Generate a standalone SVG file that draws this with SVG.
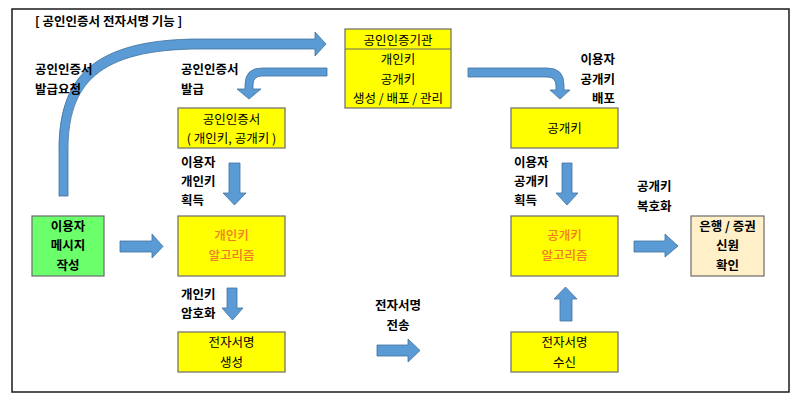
<svg xmlns="http://www.w3.org/2000/svg" width="800" height="402" viewBox="0 0 800 402">
<style>
text{font-family:"Noto Sans CJK KR","Noto Sans",sans-serif;font-size:12.5px;fill:#000}
.b{font-weight:bold}
.c{text-anchor:middle}
.r{text-anchor:end}
.o{fill:#F27A28;font-weight:500}
.box{stroke:#6b6b6b;stroke-width:1.2}
.y{fill:#FFFF00}
.arr{fill:#5B9BD5;stroke:#41719C;stroke-width:0.8}
</style>
<rect x="0" y="0" width="800" height="402" fill="#fff"/>
<rect x="12" y="9" width="777" height="383" fill="none" stroke="#1a1a1a" stroke-width="1.5"/>
<text x="35" y="25.5" class="b">[ 공인인증서 전자서명 기능 ]</text>

<g id="connectors">
<path class="arr" d="M59,196 L59,150 C59,80 90,39 200,39 L315,39 L315,32 L326,44 L315,56 L315,49 L200,49 C97,49 68,85 68,150 L68,196 Z"/>
<path class="arr" d="M327,68 L262,68 Q245,68 245,85 L245,89 L237,89 L249,99 L261,89 L253,89 L253,85 Q253,76 262,76 L327,76 Z"/>
<path class="arr" d="M468,68 L547,68 Q564,68 564,85 L564,90 L570,90 L560,99 L550,90 L556,90 L556,86 Q556,77 547,77 L468,77 Z"/>
<path class="arr" d="M229,163 L240,163 L240,193 L246,193 L234.5,205 L223,193 L229,193 Z"/>
<path class="arr" d="M562,163 L572,163 L572,193 L578,193 L567,205 L556,193 L562,193 Z"/>
<path class="arr" d="M120,241 L152,241 L152,234 L163,246.5 L152,258 L152,252 L120,252 Z"/>
<path class="arr" d="M227,288 L237,288 L237,308 L243,308 L232.5,320 L222,308 L227,308 Z"/>
<path class="arr" d="M377,345 L408,345 L408,339 L420,350.5 L408,362 L408,356 L377,356 Z"/>
<path class="arr" d="M560,321 L560,299 L554,299 L565.5,287 L577,299 L572,299 L572,321 Z"/>
<path class="arr" d="M634,241 L665,241 L665,234 L678,246 L665,257 L665,252 L634,252 Z"/>
</g>

<g id="labels">
<text x="35" y="73.5" class="b">공인인증서</text>
<text x="35" y="93.5" class="b">발급요청</text>
<text x="181" y="73.5" class="b">공인인증서</text>
<text x="181" y="93.5" class="b">발급</text>
<text x="615" y="63.5" class="b r">이용자</text>
<text x="615" y="83.5" class="b r">공개키</text>
<text x="615" y="102.5" class="b r">배포</text>
<text x="181" y="167" class="b">이용자</text>
<text x="181" y="186" class="b">개인키</text>
<text x="181" y="205" class="b">획득</text>
<text x="514" y="167" class="b">이용자</text>
<text x="514" y="186" class="b">공개키</text>
<text x="514" y="205" class="b">획득</text>
<text x="637" y="191" class="b">공개키</text>
<text x="637" y="210.5" class="b">복호화</text>
<text x="181" y="298.5" class="b">개인키</text>
<text x="181" y="317.5" class="b">암호화</text>
<text x="398" y="309.5" class="b c">전자서명</text>
<text x="398" y="329.5" class="b c">전송</text>
</g>

<g id="ca">
<rect x="345" y="29" width="106" height="79" class="box y"/>
<line x1="345" y1="49" x2="451" y2="49" stroke="#6b6b6b" stroke-width="1.2"/>
<text x="398" y="44.5" class="c">공인인증기관</text>
<text x="398" y="64" class="c">개인키</text>
<text x="398" y="83.5" class="c">공개키</text>
<text x="398" y="102.5" class="c">생성 / 배포 / 관리</text>
</g>

<g id="cert">
<rect x="178" y="108" width="107" height="40" class="box y"/>
<text x="231.5" y="123.5" class="c">공인인증서</text>
<text x="231.5" y="142.5" class="c">( 개인키, 공개키 )</text>
</g>

<g id="pubkey">
<rect x="511" y="108" width="107" height="40" class="box y"/>
<text x="564.5" y="132.5" class="c">공개키</text>
</g>

<g id="user">
<rect x="32" y="216" width="72" height="60" class="box" fill="#6CFF6C"/>
<text x="68" y="230.5" class="b c">이용자</text>
<text x="68" y="250" class="b c">메시지</text>
<text x="68" y="269.5" class="b c">작성</text>
</g>

<g id="privalg">
<rect x="178" y="216" width="107" height="60" class="box y"/>
<text x="231.5" y="239.5" class="c o">개인키</text>
<text x="231.5" y="259.5" class="c o">알고리즘</text>
</g>

<g id="pubalg">
<rect x="511" y="216" width="107" height="60" class="box y"/>
<text x="564.5" y="239.5" class="c o">공개키</text>
<text x="564.5" y="259.5" class="c o">알고리즘</text>
</g>

<g id="bank">
<rect x="691" y="216" width="73" height="60" class="box" fill="#FFF0C9"/>
<text x="727.5" y="230.5" class="b c">은행 / 증권</text>
<text x="727.5" y="250" class="b c">신원</text>
<text x="727.5" y="269.5" class="b c">확인</text>
</g>

<g id="siggen">
<rect x="178" y="332" width="107" height="40" class="box y"/>
<text x="231.5" y="347" class="c">전자서명</text>
<text x="231.5" y="366.5" class="c">생성</text>
</g>

<g id="sigrecv">
<rect x="511" y="332" width="107" height="40" class="box y"/>
<text x="564.5" y="347" class="c">전자서명</text>
<text x="564.5" y="366.5" class="c">수신</text>
</g>
</svg>
